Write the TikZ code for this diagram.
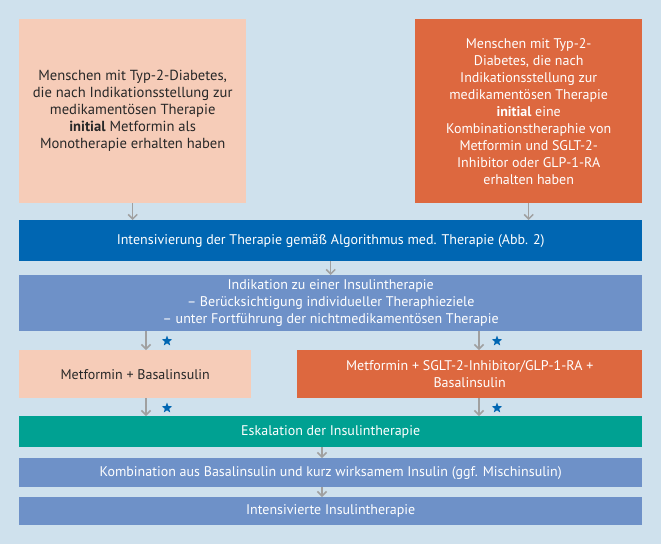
\documentclass[tikz,border=0pt]{standalone}
\usepackage{fontspec}
\setmainfont{PT Sans}
\usetikzlibrary{shapes.geometric,arrows.meta}
\definecolor{bgc}{RGB}{207,225,237}
\definecolor{peach}{RGB}{246,204,184}
\definecolor{orng}{RGB}{221,104,63}
\definecolor{dblue}{RGB}{0,102,178}
\definecolor{mblue}{RGB}{110,145,200}
\definecolor{tealc}{RGB}{0,161,146}
\definecolor{arrgray}{RGB}{160,160,160}
\definecolor{txtdark}{RGB}{40,40,40}
\tikzset{
  box/.style={anchor=north west, inner sep=0pt, align=center, font=\fontsize{14}{17}\selectfont},
  lightbox/.style={box, fill=peach, text=txtdark},
  orbox/.style={box, fill=orng, text=white},
  dbbox/.style={box, fill=dblue, text=white},
  mbbox/.style={box, fill=mblue, text=white},
  tbox/.style={box, fill=tealc, text=white},
  arr/.style={draw=arrgray, line width=1.5pt, -{Straight Barb[length=4.5pt,width=9pt,line width=1.5pt]}},
  starnode/.style={star, star points=5, star point ratio=2.4, fill=dblue, inner sep=0pt, minimum size=11pt}
}
\begin{document}
\begin{tikzpicture}[x=1pt,y=-1pt]
\fill[bgc] (0,0) rectangle (661,544);
\useasboundingbox (0,0) rectangle (661,544);

\node[lightbox, minimum width=227pt, minimum height=184pt, font=\fontsize{14.6}{17}\selectfont] (b1) at (19,19)
 {Menschen mit Typ-2-Diabetes,\\die nach Indikationsstellung zur\\medikamentösen Therapie\\\textbf{initial} Metformin als\\Monotherapie erhalten haben};
\node[orbox, minimum width=227pt, minimum height=184pt] (b2) at (415,19)
 {Menschen mit Typ-2-\\Diabetes, die nach\\Indikationsstellung zur\\medikamentösen Therapie\\\textbf{initial} eine\\Kombinationstheraphie von\\Metformin und SGLT-2-\\Inhibitor oder GLP-1-RA\\erhalten haben};

\node[dbbox, minimum width=623pt, minimum height=41pt] (ints) at (19,220)
 {Intensivierung der Therapie gemäß Algorithmus med. Therapie (Abb. 2)};
\node[mbbox, minimum width=623pt, minimum height=56pt] (indik) at (19,275)
 {Indikation zu einer Insulintherapie\\– Berücksichtigung individueller Theraphieziele\\– unter Fortführung der nichtmedikamentösen Therapie};
\node[lightbox, minimum width=232pt, minimum height=48pt] (m1) at (19,350)
 {Metformin + Basalinsulin};
\node[orbox, minimum width=345pt, minimum height=48pt] (m2) at (297,350)
 {Metformin + SGLT-2-Inhibitor/GLP-1-RA +\\Basalinsulin};
\node[tbox, minimum width=623pt, minimum height=31pt] (esk) at (19,416)
 {Eskalation der Insulintherapie};
\node[mbbox, minimum width=623pt, minimum height=29pt] (komb) at (19,458)
 {Kombination aus Basalinsulin und kurz wirksamem Insulin (ggf. Mischinsulin)};
\node[mbbox, minimum width=623pt, minimum height=28pt] (intv) at (19,497)
 {Intensivierte Insulintherapie};

\coordinate (xa) at (146,0);
\coordinate (xb) at (479,0);
\coordinate (xc) at (322,0);

\draw[arr] (b1.south) -- (b1.south |- ints.north);
\draw[arr] (b2.south) -- (b2.south |- ints.north);
\draw[arr] (ints.south) -- (indik.north);
\draw[arr] (indik.south -| xa) -- (m1.north -| xa);
\draw[arr] (indik.south -| xb) -- (m2.north -| xb);
\draw[arr] (m1.south -| xa) -- (esk.north -| xa);
\draw[arr] (m2.south -| xb) -- (esk.north -| xb);
\draw[arr] (esk.south -| xc) -- (komb.north -| xc);
\draw[arr] (komb.south -| xc) -- (intv.north -| xc);

\node[starnode] (s1) at (167,341) {};
\node[starnode] (s2) at (497,341) {};
\node[starnode] (s3) at (167,408) {};
\node[starnode] (s4) at (497,408) {};
\end{tikzpicture}
\end{document}
